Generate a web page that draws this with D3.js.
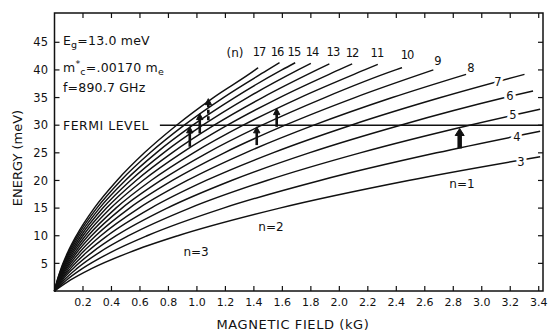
<!DOCTYPE html>
<html>
<head>
<meta charset="utf-8">
<script src="https://cdn.jsdelivr.net/npm/d3@7"></script>
<style>
  body { margin: 0; background: #fff; }
  svg { display: block; font-family: "DejaVu Sans", sans-serif; fill: #111; }
  .curve { fill: none; stroke: #111; stroke-width: 1.45; }
  .frame { fill: none; stroke: #111; stroke-width: 1.5; }
  .tick { stroke: #111; stroke-width: 1.2; }
  .halo { stroke: #fff; stroke-width: 6; paint-order: stroke; stroke-linejoin: round; }
</style>
</head>
<body>
<svg width="550" height="335"></svg>
<script>
'use strict';
// Landau curves, labelled n; each row = field (kG) where the curve crosses gridEnergy
var levelN = [17, 16, 15, 14, 13, 12, 11, 10, 9, 8, 7, 6, 5, 4, 3];
var gridEnergy = [0, 2, 4, 7, 10, 15, 20, 25, 30, 35, 40];
var crossField = [
  [0, .020, .045, .093, .153, .279, .439, .631, .857, 1.116, 1.409],
  [0, .021, .048, .099, .162, .297, .466, .671, .911, 1.186, 1.497],
  [0, .023, .051, .105, .173, .316, .497, .715, .971, 1.265, 1.596],
  [0, .024, .055, .113, .186, .339, .533, .766, 1.041, 1.355, 1.710],
  [0, .026, .059, .122, .200, .365, .573, .825, 1.121, 1.460, 1.842],
  [0, .028, .064, .132, .217, .395, .621, .894, 1.214, 1.581, 1.996],
  [0, .031, .070, .144, .236, .431, .678, .976, 1.325, 1.725, 2.177],
  [0, .034, .077, .158, .260, .474, .746, 1.073, 1.457, 1.898, 2.395],
  [0, .038, .085, .176, .289, .527, .828, 1.192, 1.619, 2.109],
  [0, .042, .096, .198, .325, .593, .932, 1.341, 1.821, 2.372],
  [0, .048, .110, .226, .371, .678, 1.065, 1.533, 2.082, 2.711],
  [0, .056, .128, .264, .433, .791, 1.243, 1.788, 2.429, 3.163],
  [0, .068, .154, .316, .520, .949, 1.491, 2.146, 2.914],
  [0, .085, .192, .395, .650, 1.186, 1.864, 2.683],
  [0, .113, .256, .527, .866, 1.581, 2.485]
];
var endField = [1.43, 1.58, 1.69, 1.80, 1.93, 2.09, 2.27, 2.44, 2.66, 2.89, 3.30, 3.36, 3.41, 3.41, 3.41];
var endEnergy = [40.4, 41.3, 41.3, 41.2, 41.1, 41.1, 41.0, 40.4, 40.0, 39.2, 39.2, 36.2, 32.9, 28.9, 24.3];
// where each curve's number is written (kG, meV)
var labelField = [1.436, 1.562, 1.681, 1.808, 1.955, 2.089, 2.264, 2.475, 2.693, 2.924, 3.114, 3.198, 3.219, 3.247, 3.275];
var labelEnergy = [43.2, 43.2, 43.2, 43.2, 43.2, 43.1, 43.1, 42.7, 41.6, 40.3, 37.8, 35.3, 31.8, 27.9, 23.3];

var fermiEnergy = 30;
var xTicks = [0.2, 0.4, 0.6, 0.8, 1.0, 1.2, 1.4, 1.6, 1.8, 2.0, 2.2, 2.4, 2.6, 2.8, 3.0, 3.2, 3.4];
var yTicks = [5, 10, 15, 20, 25, 30, 35, 40, 45];

// transitions at f = 890.7 GHz
var arrowField = [0.95, 1.02, 1.08, 1.42, 1.56, 2.845];
var arrowFrom = [26.1, 28.5, 30.9, 26.4, 29.7, 25.8];
var arrowTo = [29.7, 32.1, 34.8, 29.7, 33.0, 29.4];
var arrowDashed = [false, false, true, false, false, false];

var regionLabels = ['n=3', 'n=2', 'n=1'];
var regionField = [0.994, 1.52, 2.861];
var regionEnergy = [7.1, 11.6, 19.5];

var svg = d3.select('svg');
var x = d3.scaleLinear().domain([0, 3.43]).range([54.5, 543]);
var y = d3.scaleLinear().domain([0, 50.3]).range([291, 13]);
var tl = 5;

svg.append('rect').attr('class', 'frame')
  .attr('x', x(0)).attr('y', y(50.3))
  .attr('width', x(3.43) - x(0)).attr('height', y(0) - y(50.3));

// inward ticks on all four sides
var tk = svg.append('g');
xTicks.forEach(function(t) {
  tk.append('line').attr('class', 'tick').attr('x1', x(t)).attr('x2', x(t)).attr('y1', y(0)).attr('y2', y(0) - tl);
  tk.append('line').attr('class', 'tick').attr('x1', x(t)).attr('x2', x(t)).attr('y1', y(50.3)).attr('y2', y(50.3) + tl);
  tk.append('text').attr('x', x(t)).attr('y', y(0) + 15)
    .attr('text-anchor', 'middle').attr('font-size', 11).text(d3.format('.1f')(t));
});
yTicks.forEach(function(t) {
  tk.append('line').attr('class', 'tick').attr('x1', x(0)).attr('x2', x(0) + tl).attr('y1', y(t)).attr('y2', y(t));
  tk.append('line').attr('class', 'tick').attr('x1', x(3.43)).attr('x2', x(3.43) - tl).attr('y1', y(t)).attr('y2', y(t));
  tk.append('text').attr('x', 48).attr('y', y(t)).attr('dy', '0.36em')
    .attr('text-anchor', 'end').attr('font-size', 11.5).text(t);
});

// curves
var line = d3.line().x(function(d) { return x(d[0]); }).y(function(d) { return y(d[1]); })
  .curve(d3.curveMonotoneX);
var curves = levelN.map(function(n, i) {
  var pts = crossField[i].map(function(b, j) { return [b, gridEnergy[j]]; });
  pts.push([endField[i], endEnergy[i]]);
  return pts;
});
svg.append('g').selectAll('path').data(curves).enter().append('path')
  .attr('class', 'curve').attr('d', line);

// fermi level
svg.append('line').attr('x1', x(0.74)).attr('x2', x(3.43))
  .attr('y1', y(fermiEnergy)).attr('y2', y(fermiEnergy))
  .attr('stroke', '#111').attr('stroke-width', 1.4);
svg.append('text').attr('x', 63).attr('y', y(fermiEnergy)).attr('dy', '0.36em')
  .attr('font-size', 12.5).attr('letter-spacing', 0.5).text('FERMI LEVEL');

// curve numbers; the low ones sit on their curve and cut a gap in it
svg.append('g').selectAll('text').data(levelN).enter().append('text')
  .attr('class', function(d, i) { return i >= 10 ? 'halo' : null; })
  .attr('x', function(d, i) { return x(labelField[i]); })
  .attr('y', function(d, i) { return y(labelEnergy[i]); })
  .attr('dy', '0.36em').attr('text-anchor', 'middle').attr('font-size', 11.5)
  .attr('letter-spacing', function(d) { return d > 9 ? -1 : 0; })
  .text(function(d) { return d; });
svg.append('text').attr('x', x(1.267)).attr('y', y(43.2)).attr('dy', '0.36em')
  .attr('text-anchor', 'middle').attr('font-size', 12).text('(n)');

svg.append('g').selectAll('text').data(regionLabels).enter().append('text')
  .attr('x', function(d, i) { return x(regionField[i]); })
  .attr('y', function(d, i) { return y(regionEnergy[i]); })
  .attr('dy', '0.36em').attr('text-anchor', 'middle').attr('font-size', 12)
  .text(function(d) { return d; });

// arrows
var ag = svg.append('g');
arrowField.forEach(function(b, i) {
  var big = i === arrowField.length - 1;
  var hw = big ? 4.5 : 3.2, hl = big ? 7 : 6;
  var xa = x(b), y0 = y(arrowFrom[i]), y1 = y(arrowTo[i]);
  ag.append('line').attr('x1', xa).attr('x2', xa).attr('y1', y0).attr('y2', y1 + hl - 1)
    .attr('stroke', '#111').attr('stroke-width', big ? 4.5 : 2.6)
    .attr('stroke-dasharray', arrowDashed[i] ? '4,2.5' : null);
  ag.append('path')
    .attr('d', 'M' + xa + ',' + y1 + 'L' + (xa + hw) + ',' + (y1 + hl) + 'L' + (xa - hw) + ',' + (y1 + hl) + 'Z')
    .attr('fill', '#111').attr('stroke', '#111').attr('stroke-width', 1).attr('stroke-linejoin', 'round');
});

// parameters
var info = svg.append('g').attr('font-size', 12.5).attr('letter-spacing', 0.2);
var t1 = info.append('text').attr('x', 63).attr('y', 45);
t1.append('tspan').text('E');
t1.append('tspan').attr('font-size', 9.5).attr('dy', 3).text('g');
t1.append('tspan').attr('dy', -3).text('=13.0 meV');
var t2 = info.append('text').attr('x', 63).attr('y', 72);
t2.append('tspan').text('m');
t2.append('tspan').attr('font-size', 9.5).attr('dy', -5).text('*');
t2.append('tspan').attr('font-size', 9.5).attr('dy', 8).text('c');
t2.append('tspan').attr('dy', -3).text('=.00170 m');
t2.append('tspan').attr('font-size', 9.5).attr('dy', 3).text('e');
info.append('text').attr('x', 63).attr('y', 92).text('f=890.7 GHz');

// axis titles
svg.append('text').attr('x', 293).attr('y', 329)
  .attr('text-anchor', 'middle').attr('font-size', 13).attr('letter-spacing', 0.6)
  .text('MAGNETIC FIELD (kG)');
svg.append('text').attr('transform', 'translate(22,158) rotate(-90)')
  .attr('text-anchor', 'middle').attr('font-size', 13).text('ENERGY (meV)');
</script>
</body>
</html>
